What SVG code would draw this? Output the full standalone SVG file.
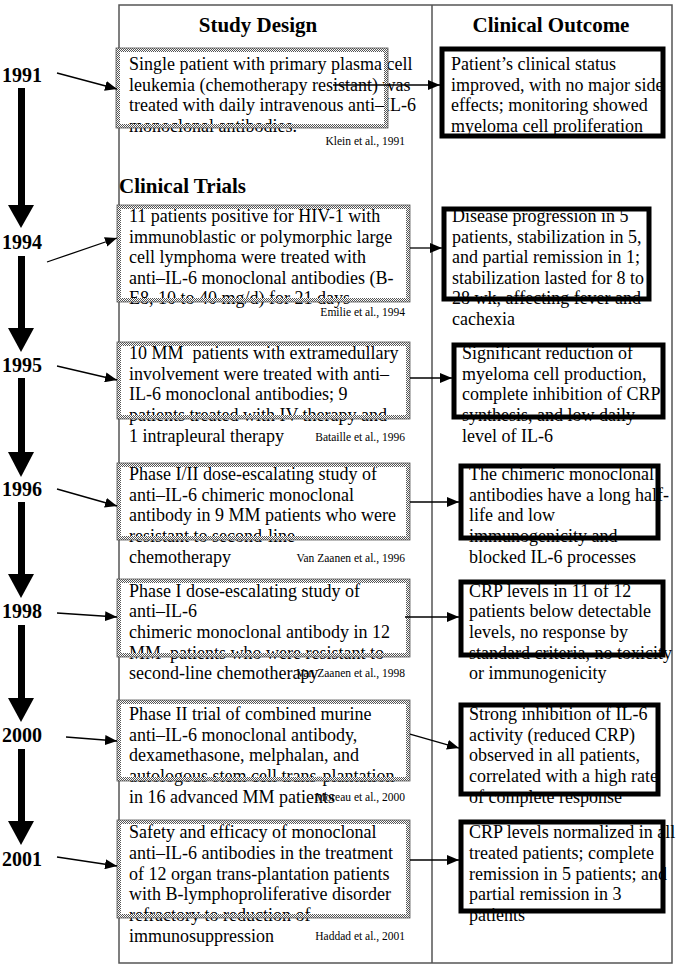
<svg xmlns="http://www.w3.org/2000/svg" width="681" height="969" viewBox="0 0 681 969">
<defs>
<pattern id="stip" width="2" height="2" patternUnits="userSpaceOnUse"><rect width="2" height="2" fill="#fff"/><rect width="1" height="1" fill="#555"/><rect x="1" y="1" width="1" height="1" fill="#555"/></pattern>
<marker id="ah" markerWidth="12" markerHeight="10" refX="12" refY="5" orient="auto" markerUnits="userSpaceOnUse"><path d="M0,0 L12,5 L0,10 z" fill="#000"/></marker>
<style>
text{font-family:"Liberation Serif","Times New Roman",serif;fill:#000}
.b{font-size:18px}
.h{font-size:21px;font-weight:bold}
.y{font-size:20px;font-weight:bold}
.c{font-size:11.5px;text-anchor:end}
.dot{fill:none;stroke:url(#stip);stroke-width:4}
.dotl{fill:none;stroke:#555;stroke-width:0.8}
.out{fill:none;stroke:#000;stroke-width:5}
.con{stroke:#000;stroke-width:1.3;fill:none;marker-end:url(#ah)}
</style>
</defs>
<rect width="681" height="969" fill="#fff"/>
<g id="frame">
<rect x="119" y="5" width="553" height="958" fill="none" stroke="#555" stroke-width="1.5"/>
<line x1="432" y1="5" x2="432" y2="963" stroke="#555" stroke-width="1.5"/>
<text class="h" x="258" y="32" text-anchor="middle">Study Design</text>
<text class="h" x="551" y="32" text-anchor="middle">Clinical Outcome</text>
<text class="h" x="119" y="193">Clinical Trials</text>
</g>
<g id="timeline">
<rect x="18" y="88" width="7" height="118"/><polygon points="8,205 34,205 21,228"/>
<rect x="18" y="256" width="7" height="74"/><polygon points="8,328 34,328 21,352"/>
<rect x="18" y="378" width="7" height="76"/><polygon points="8,452 34,452 21,477"/>
<rect x="18" y="502" width="7" height="74"/><polygon points="8,574 34,574 21,598"/>
<rect x="18" y="625" width="7" height="75"/><polygon points="8,698 34,698 21,722"/>
<rect x="18" y="749" width="7" height="74"/><polygon points="8,821 34,821 21,845"/>
</g>
<g id="y1991"><text class="y" x="2" y="82">1991</text></g>
<g id="y1994"><text class="y" x="2" y="249">1994</text></g>
<g id="y1995"><text class="y" x="2" y="372">1995</text></g>
<g id="y1996"><text class="y" x="2" y="496">1996</text></g>
<g id="y1998"><text class="y" x="2" y="618">1998</text></g>
<g id="y2000"><text class="y" x="2" y="742">2000</text></g>
<g id="y2001"><text class="y" x="2" y="866">2001</text></g>

<g id="study1">
<text class="b" x="129" y="70">Single patient with primary plasma cell</text>
<text class="b" x="129" y="91">leukemia (chemotherapy resistant) was</text>
<text class="b" x="129" y="111">treated with daily intravenous anti–IL-6</text>
<text class="b" x="129" y="132">monoclonal antibodies.</text>
<text class="c" x="405" y="145">Klein et al., 1991</text>
<rect class="dot" x="118" y="50" width="268" height="76"/>
<rect class="dotl" x="116" y="48" width="272" height="80"/>
</g>
<g id="outcome1">
<text class="b" x="451" y="70">Patient’s clinical status</text>
<text class="b" x="451" y="91">improved, with no major side</text>
<text class="b" x="451" y="111">effects; monitoring showed</text>
<text class="b" x="451" y="132">myeloma cell proliferation</text>
<rect class="out" x="442" y="49" width="221" height="87"/>
</g>

<g id="study2">
<text class="b" x="129" y="222">11 patients positive for HIV-1 with</text>
<text class="b" x="129" y="243">immunoblastic or polymorphic large</text>
<text class="b" x="129" y="263">cell lymphoma were treated with</text>
<text class="b" x="129" y="284">anti–IL-6 monoclonal antibodies (B-</text>
<text class="b" x="129" y="304">E8, 10 to 40 mg/d) for 21 days</text>
<text class="c" x="405" y="316">Emilie et al., 1994</text>
<rect class="dot" x="119" y="207" width="289" height="93"/>
<rect class="dotl" x="117" y="205" width="293" height="97"/>
</g>
<g id="outcome2">
<text class="b" x="452" y="222">Disease progression in 5</text>
<text class="b" x="452" y="243">patients, stabilization in 5,</text>
<text class="b" x="452" y="263">and partial remission in 1;</text>
<text class="b" x="452" y="284">stabilization lasted for 8 to</text>
<text class="b" x="452" y="304">28 wk, affecting fever and</text>
<text class="b" x="452" y="325">cachexia</text>
<rect class="out" x="444" y="209" width="205" height="90"/>
</g>

<g id="study3">
<text class="b" x="129" y="359" xml:space="preserve">10 MM  patients with extramedullary</text>
<text class="b" x="129" y="380">involvement were treated with anti–</text>
<text class="b" x="129" y="400">IL-6 monoclonal antibodies; 9</text>
<text class="b" x="129" y="421">patients treated with IV therapy and</text>
<text class="b" x="129" y="442">1 intrapleural therapy</text>
<text class="c" x="405" y="441">Bataille et al., 1996</text>
<rect class="dot" x="119" y="344" width="289" height="73"/>
<rect class="dotl" x="117" y="342" width="293" height="77"/>
</g>
<g id="outcome3">
<text class="b" x="462" y="359">Significant reduction of</text>
<text class="b" x="462" y="380">myeloma cell production,</text>
<text class="b" x="462" y="400">complete inhibition of CRP</text>
<text class="b" x="462" y="421">synthesis, and low daily</text>
<text class="b" x="462" y="442">level of IL-6</text>
<rect class="out" x="454" y="345" width="209" height="72"/>
</g>

<g id="study4">
<text class="b" x="129" y="480">Phase I/II dose-escalating study of</text>
<text class="b" x="129" y="501">anti–IL-6 chimeric monoclonal</text>
<text class="b" x="129" y="521">antibody in 9 MM patients who were</text>
<text class="b" x="129" y="542">resistant to second-line</text>
<text class="b" x="129" y="563">chemotherapy</text>
<text class="c" x="405" y="562">Van Zaanen et al., 1996</text>
<rect class="dot" x="119" y="465" width="289" height="73"/>
<rect class="dotl" x="117" y="463" width="293" height="77"/>
</g>
<g id="outcome4">
<text class="b" x="469" y="480">The chimeric monoclonal</text>
<text class="b" x="469" y="501">antibodies have a long half-</text>
<text class="b" x="469" y="521">life and low</text>
<text class="b" x="469" y="542">immunogenicity and</text>
<text class="b" x="469" y="563">blocked IL-6 processes</text>
<rect class="out" x="461" y="466" width="197" height="72"/>
</g>

<g id="study5">
<text class="b" x="129" y="597">Phase I dose-escalating study of</text>
<text class="b" x="129" y="617">anti–IL-6</text>
<text class="b" x="129" y="638">chimeric monoclonal antibody in 12</text>
<text class="b" x="129" y="659" xml:space="preserve">MM  patients who were resistant to</text>
<text class="b" x="129" y="679">second-line chemotherapy</text>
<text class="c" x="405" y="677">Van Zaanen et al., 1998</text>
<rect class="dot" x="119" y="581" width="289" height="74"/>
<rect class="dotl" x="117" y="579" width="293" height="78"/>
</g>
<g id="outcome5">
<text class="b" x="469" y="597">CRP levels in 11 of 12</text>
<text class="b" x="469" y="617">patients below detectable</text>
<text class="b" x="469" y="638">levels, no response by</text>
<text class="b" x="469" y="659">standard criteria, no toxicity</text>
<text class="b" x="469" y="679">or immunogenicity</text>
<rect class="out" x="461" y="582" width="202" height="73"/>
</g>

<g id="study6">
<text class="b" x="129" y="720">Phase II trial of combined murine</text>
<text class="b" x="129" y="741">anti–IL-6 monoclonal antibody,</text>
<text class="b" x="129" y="761">dexamethasone, melphalan, and</text>
<text class="b" x="129" y="782">autologous stem cell trans-plantation</text>
<text class="b" x="129" y="803">in 16 advanced MM patients</text>
<text class="c" x="405" y="801">Moreau et al., 2000</text>
<rect class="dot" x="119" y="702" width="289" height="77"/>
<rect class="dotl" x="117" y="700" width="293" height="81"/>
</g>
<g id="outcome6">
<text class="b" x="469" y="720">Strong inhibition of IL-6</text>
<text class="b" x="469" y="741">activity (reduced CRP)</text>
<text class="b" x="469" y="761">observed in all patients,</text>
<text class="b" x="469" y="782">correlated with a high rate</text>
<text class="b" x="469" y="803">of complete response</text>
<rect class="out" x="461" y="705" width="197" height="89"/>
</g>

<g id="study7">
<text class="b" x="129" y="838">Safety and efficacy of monoclonal</text>
<text class="b" x="129" y="859">anti–IL-6 antibodies in the treatment</text>
<text class="b" x="129" y="880">of 12 organ trans-plantation patients</text>
<text class="b" x="129" y="900">with B-lymphoproliferative disorder</text>
<text class="b" x="129" y="921">refractory to reduction of</text>
<text class="b" x="129" y="942">immunosuppression</text>
<text class="c" x="405" y="940">Haddad et al., 2001</text>
<rect class="dot" x="119" y="822" width="289" height="94"/>
<rect class="dotl" x="117" y="820" width="293" height="98"/>
</g>
<g id="outcome7">
<text class="b" x="469" y="838">CRP levels normalized in all</text>
<text class="b" x="469" y="859">treated patients; complete</text>
<text class="b" x="469" y="880">remission in 5 patients; and</text>
<text class="b" x="469" y="900">partial remission in 3</text>
<text class="b" x="469" y="921">patients</text>
<rect class="out" x="461" y="822" width="202" height="89"/>
</g>

<g id="connectors">
<line class="con" x1="57" y1="73" x2="117" y2="89"/>
<line class="con" x1="47" y1="262" x2="117" y2="238"/>
<line class="con" x1="57" y1="366" x2="117" y2="380"/>
<line class="con" x1="57" y1="489" x2="117" y2="506"/>
<line class="con" x1="57" y1="613" x2="117" y2="617"/>
<line class="con" x1="66" y1="737" x2="117" y2="741"/>
<line class="con" x1="57" y1="857" x2="117" y2="866"/>
<line class="con" x1="333" y1="85" x2="440" y2="85"/>
<line class="con" x1="410" y1="248" x2="442" y2="248"/>
<line class="con" x1="410" y1="378" x2="452" y2="378"/>
<line class="con" x1="410" y1="502" x2="459" y2="502"/>
<line class="con" x1="405" y1="617" x2="459" y2="617"/>
<line class="con" x1="410" y1="734" x2="459" y2="748"/>
<line class="con" x1="410" y1="860" x2="459" y2="860"/>
</g>
</svg>
